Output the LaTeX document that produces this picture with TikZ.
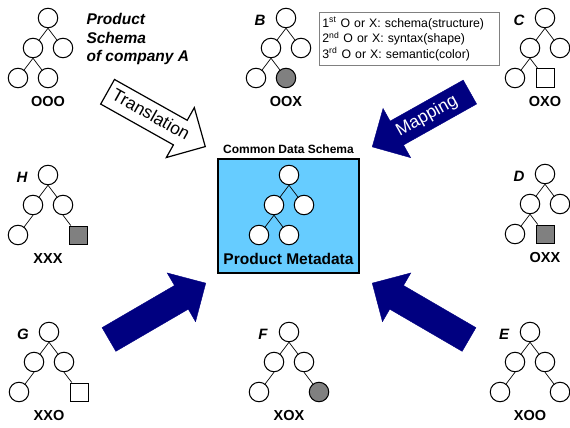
\documentclass[tikz,border=0pt]{standalone}
\usepackage{fontspec}
\setmainfont{Liberation Sans}
\usetikzlibrary{shapes.arrows, positioning, calc}

\definecolor{panelblue}{RGB}{102,204,255}
\definecolor{arrownavy}{RGB}{0,0,128}

% one schema tree: name, root position, parent of right leaf, style of right leaf
\newcommand{\schematree}[4]{%
  \node[cnode] (#1-r) at #2 {};
  \node[cnode, below left=30pt and 15pt of #1-r] (#1-ml) {};
  \node[cnode, below right=30pt and 15pt of #1-r] (#1-mr) {};
  \node[cnode, below left=30pt and 15pt of #1-ml] (#1-bl) {};
  \node[#4, below right=30pt and 15pt of #1-#3] (#1-br) {};
  \draw[branch] (#1-r.south) -- (#1-ml) (#1-r.south) -- (#1-mr)
    (#1-ml.south) -- (#1-bl) (#1-#3.south) -- (#1-br);
}

\begin{document}
\begin{tikzpicture}[x=1pt, y=-1pt, on grid]
    % Styles
    \tikzstyle{cnode} = [circle, draw, line width=1pt, fill=white, minimum size=19.5pt, inner sep=0pt]
    \tikzstyle{cnodegray} = [cnode, fill=black!50]
    \tikzstyle{snode} = [rectangle, draw, line width=1pt, fill=white, minimum size=18pt, inner sep=0pt]
    \tikzstyle{snodegray} = [snode, fill=black!50]
    \tikzstyle{branch} = [draw, line width=0.7pt]
    \tikzstyle{treecode} = [font=\fontsize{14.5}{14.5}\selectfont\bfseries]
    \tikzstyle{treeletter} = [font=\fontsize{15}{15}\selectfont\bfseries\itshape]
    \tikzstyle{bigarrow} = [single arrow, single arrow head extend=14.5pt, minimum height=112pt, inner sep=0.5pt, text height=17.5pt, text depth=8.5pt, font=\fontsize{17.5}{17.5}\selectfont]
    \tikzstyle{navyarrow} = [bigarrow, draw=arrownavy, fill=arrownavy, text=white]

    \useasboundingbox (0,0) rectangle (570,428);

    % Company schemas
    \schematree{A}{(48,18)}{ml}{cnode}
    \schematree{B}{(286,18)}{ml}{cnodegray}
    \schematree{C}{(545,18)}{ml}{snode}
    \schematree{D}{(545,174)}{ml}{snodegray}
    \schematree{H}{(48,175)}{mr}{snodegray}
    \schematree{G}{(49,332)}{mr}{snode}
    \schematree{F}{(289,332)}{mr}{cnodegray}
    \schematree{E}{(530,332)}{mr}{cnode}

    \node[treecode, below=84pt of A-r] (A-code) {OOO};
    \node[treecode, below=84pt of B-r] (B-code) {OOX};
    \node[treecode, below=84pt of C-r] (C-code) {OXO};
    \node[treecode, below=84pt of D-r] (D-code) {OXX};
    \node[treecode, below=84pt of H-r] (H-code) {XXX};
    \node[treecode, below=84pt of G-r] (G-code) {XXO};
    \node[treecode, below=84pt of F-r] (F-code) {XOX};
    \node[treecode, below=84pt of E-r] (E-code) {XOO};

    \node[treeletter, left=26pt of B-r, yshift=-2pt] (B-tag) {B};
    \node[treeletter, left=26pt of C-r, yshift=-2pt] (C-tag) {C};
    \node[treeletter, left=26pt of D-r, yshift=-2pt] (D-tag) {D};
    \node[treeletter, left=26pt of E-r, yshift=-2pt] (E-tag) {E};
    \node[treeletter, left=26pt of F-r, yshift=-2pt] (F-tag) {F};
    \node[treeletter, left=26pt of G-r, yshift=-2pt] (G-tag) {G};
    \node[treeletter, left=26pt of H-r, yshift=-2pt] (H-tag) {H};

    \node[font=\fontsize{15.5}{18.5}\selectfont\bfseries\itshape, align=left, anchor=west] (desc) at (83,39) {Product\\Schema\\of company A};

    % Legend
    \node[draw=black!50, line width=0.8pt, anchor=north west, minimum width=180pt, minimum height=53pt, text width=174pt, inner xsep=3pt, align=left, font=\fontsize{12.3}{15.5}\selectfont] (legend) at (319,12) {1\textsuperscript{st} O or X: schema(structure)\\2\textsuperscript{nd} O or X: syntax(shape)\\3\textsuperscript{rd} O or X: semantic(color)};

    % Common data schema
    \node[draw, line width=1.2pt, fill=panelblue, minimum width=141pt, minimum height=114pt] (cds) at (288.5,216) {};
    \node[font=\fontsize{12}{12}\selectfont\bfseries] (cds-title) at (288.5,149) {Common Data Schema};
    \schematree{M}{(289,175)}{ml}{cnode}
    \node[font=\fontsize{15.5}{15.5}\selectfont\bfseries] (cds-name) at (288.5,259) {Product Metadata};

    % Big arrows
    \node[bigarrow, draw=black, line width=1.2pt, fill=white, rotate=-29.3, anchor=tip] (translation) at (206,147) {Translation};
    \node[navyarrow, rotate=29.3, shape border rotate=180, anchor=tip] (mapping) at (372,147) {Mapping};
    \node[navyarrow, rotate=30.2, anchor=tip] (push-left) at (206,283) {};
    \node[navyarrow, rotate=149.8, anchor=tip] (push-right) at (372,283) {};

\end{tikzpicture}
\end{document}
